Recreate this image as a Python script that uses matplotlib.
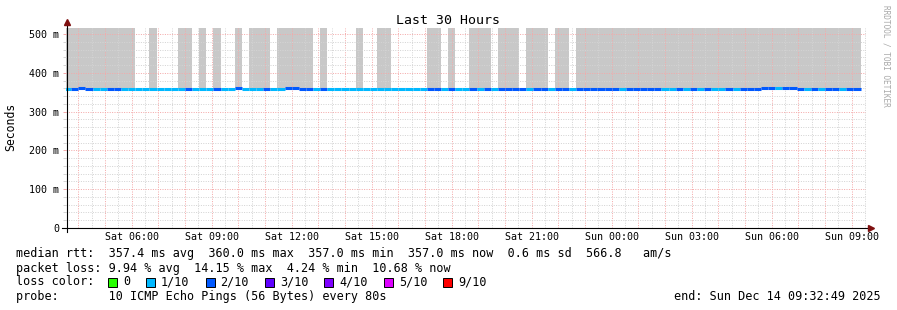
import numpy as np
import pandas as pd
import matplotlib
matplotlib.use("Agg")
import matplotlib.pyplot as plt
import matplotlib.dates as mdates
from matplotlib.ticker import MultipleLocator, FuncFormatter
from matplotlib.patches import Rectangle

W, H = 897, 310

# 16 minute consolidated steps (12 pings x 80 s), first one starts Sat 03:28
t_start = pd.Timestamp("2025-12-13 03:32:49")
t_end = pd.Timestamp("2025-12-14 09:32:49")
step_start = pd.date_range("2025-12-13 03:28", periods=112, freq="16min")

# median rtt per step (ms)
median_ms = [
    357, 357, 360, 357, 357, 357, 357, 357, 357, 357, 357, 357, 357, 357, 357, 357,
    359, 357, 359, 359, 359, 357, 357, 357, 360, 359, 359, 359, 357, 357, 357, 360,
    360, 359, 357, 357, 357, 358, 358, 358, 358, 358, 358, 358, 358, 358, 358, 358,
    358, 358, 358, 357, 357, 357, 357, 357, 357, 357, 357, 357, 357, 358, 358, 358,
    358, 357, 357, 357, 357, 359, 357, 357, 358, 358, 357, 359, 357, 357, 357, 357,
    357, 357, 359, 357, 357, 357, 359, 357, 357, 357, 357, 357, 357, 357, 357, 357,
    357, 358, 360, 360, 360, 360, 360, 359, 357, 357, 357, 357, 357, 357, 357, 357,
]

# lost pings out of 10 per step
loss = [
    1, 2, 2, 2, 1, 1, 2, 2, 1, 1, 1, 1, 1, 1, 1, 1,
    1, 2, 1, 1, 1, 2, 1, 1, 2, 1, 1, 1, 2, 1, 1, 2,
    2, 2, 2, 1, 2, 1, 1, 1, 1, 1, 1, 1, 1, 1, 1, 1,
    1, 1, 1, 2, 2, 1, 2, 1, 1, 2, 1, 2, 1, 2, 2, 2,
    2, 1, 2, 2, 1, 2, 2, 1, 2, 2, 2, 2, 2, 2, 1, 2,
    2, 2, 2, 2, 1, 1, 2, 1, 2, 1, 2, 1, 1, 2, 1, 2,
    2, 2, 2, 2, 1, 2, 2, 2, 1, 2, 1, 2, 2, 1, 2, 2,
]

# 1 = smoke (ping spread) goes off the top of the scale
smoke_offscale = [
    1, 1, 1, 1, 1, 1, 1, 1, 1, 1, 0, 0, 1, 0, 0, 0,
    1, 1, 0, 1, 0, 1, 0, 0, 1, 0, 1, 1, 1, 0, 1, 1,
    1, 1, 1, 0, 1, 0, 0, 0, 0, 1, 0, 0, 1, 1, 0, 0,
    0, 0, 0, 1, 1, 0, 1, 0, 0, 1, 1, 1, 0, 1, 1, 1,
    0, 1, 1, 1, 0, 1, 1, 0, 1, 1, 1, 1, 1, 1, 1, 1,
    1, 1, 1, 1, 1, 1, 1, 1, 1, 1, 1, 1, 1, 1, 1, 1,
    1, 1, 1, 1, 1, 1, 1, 1, 1, 1, 1, 1, 1, 1, 1, 1,
]

loss_labels = ["0", "1/10", "2/10", "3/10", "4/10", "5/10", "9/10"]
loss_colors = ["#26ff00", "#00b8ff", "#0059ff", "#5e00ff", "#7e00ff", "#dd00ff", "#ff0000"]
loss_color_by_count = {0: "#26ff00", 1: "#00b8ff", 2: "#0059ff", 3: "#5e00ff",
                       4: "#7e00ff", 5: "#dd00ff", 9: "#ff0000"}

y_top = 515.5
mono = "DejaVu Sans Mono"
plt.rcParams['font.family'] = [mono]


def fx(x):
    return x / W


def fy(y):
    return 1 - y / H


fig = plt.figure(figsize=(W / 100, H / 100), dpi=100)
ax = fig.add_axes([fx(66.3), fy(228), 800 / W, 200 / H])

x0 = mdates.date2num(step_start)
step_w = 16 / 1440.0
med = np.array(median_ms, dtype=float)
smoke = np.array(smoke_offscale) == 1

# smoke
ax.bar(x0[smoke], y_top + 50 - med[smoke], bottom=med[smoke], width=step_w,
       align='edge', color='#c8c8c8', linewidth=0, zorder=1)
# median line coloured by loss
ax.hlines(med, x0, x0 + step_w, colors=[loss_color_by_count[l] for l in loss],
          linewidth=2.2, zorder=3, capstyle='butt')

ax.set_xlim(mdates.date2num(t_start), mdates.date2num(t_end))
ax.set_ylim(0, y_top)

# grid
ax.xaxis.set_major_locator(mdates.HourLocator())
ax.xaxis.set_minor_locator(mdates.MinuteLocator(byminute=[30]))
ax.xaxis.set_major_formatter(FuncFormatter(
    lambda v, p: mdates.num2date(v).strftime("%a %H:%M") if mdates.num2date(v).hour % 3 == 0 else ""))
ax.yaxis.set_major_locator(MultipleLocator(100))
ax.yaxis.set_minor_locator(MultipleLocator(20))
ax.yaxis.set_major_formatter(FuncFormatter(lambda v, p: "0" if v == 0 else "%d m" % v))

ax.grid(which='major', color='#f4aaaa', linestyle=(0, (1, 1.4)), linewidth=0.72, zorder=2)
ax.grid(which='minor', color='#d4d4d4', linestyle=(0, (1, 1.4)), linewidth=0.72, zorder=2)
ax.set_axisbelow(False)

ax.tick_params(axis='x', which='both', length=0, pad=3.2, labelsize=7.2)
ax.tick_params(axis='y', which='major', length=2, width=0.72, color='#f4aaaa', pad=3.2, labelsize=7.2)
ax.tick_params(axis='y', which='minor', length=2, width=0.72, color='#d4d4d4')

for s in ax.spines.values():
    s.set_visible(False)

# axes with arrows
fig.add_artist(plt.Line2D([fx(67), fx(67)], [fy(232), fy(24)], color='black', linewidth=0.8))
fig.add_artist(plt.Line2D([fx(62), fx(868)], [fy(228), fy(228)], color='black', linewidth=0.8))
fig.add_artist(plt.Line2D([fx(67)], [fy(22)], marker='^', markersize=4, color='#7f1010', linestyle=''))
fig.add_artist(plt.Line2D([fx(870.5)], [fy(228)], marker='>', markersize=4, color='#7f1010', linestyle=''))

fig.text(fx(448), fy(20), "Last 30 Hours", ha='center', va='center', fontsize=9.5)
fig.text(fx(11), fy(127), "Seconds", ha='center', va='center', rotation=90, fontsize=8.3)
fig.text(fx(886), fy(5), "RRDTOOL / TOBI OETIKER", ha='center', va='top', rotation=270,
         fontsize=5.6, color='#a8a8a8')

fs = 8.5
fig.text(fx(16), fy(254), "median rtt:  357.4 ms avg  360.0 ms max  357.0 ms min  357.0 ms now  0.6 ms sd  566.8   am/s",
         ha='left', va='center', fontsize=fs)
fig.text(fx(16), fy(268.3), "packet loss: 9.94 % avg  14.15 % max  4.24 % min  10.68 % now",
         ha='left', va='center', fontsize=fs)
fig.text(fx(16), fy(281.7), "loss color:", ha='left', va='center', fontsize=fs)
xs = 108
for lab, col in zip(loss_labels, loss_colors):
    fig.add_artist(Rectangle((fx(xs), fy(286.5)), 9 / W, 9 / H, facecolor=col,
                             edgecolor='black', linewidth=0.7))
    fig.text(fx(xs + 15), fy(281.7), lab, ha='left', va='center', fontsize=fs)
    xs = xs + 15 + 7.11 * len(lab) + 16
fig.text(fx(16), fy(296.3), "probe:       10 ICMP Echo Pings (56 Bytes) every 80s",
         ha='left', va='center', fontsize=fs)
fig.text(fx(881), fy(296.3), "end: Sun Dec 14 09:32:49 2025", ha='right', va='center', fontsize=fs)

fig.savefig("out.png", dpi=100, facecolor='white')
